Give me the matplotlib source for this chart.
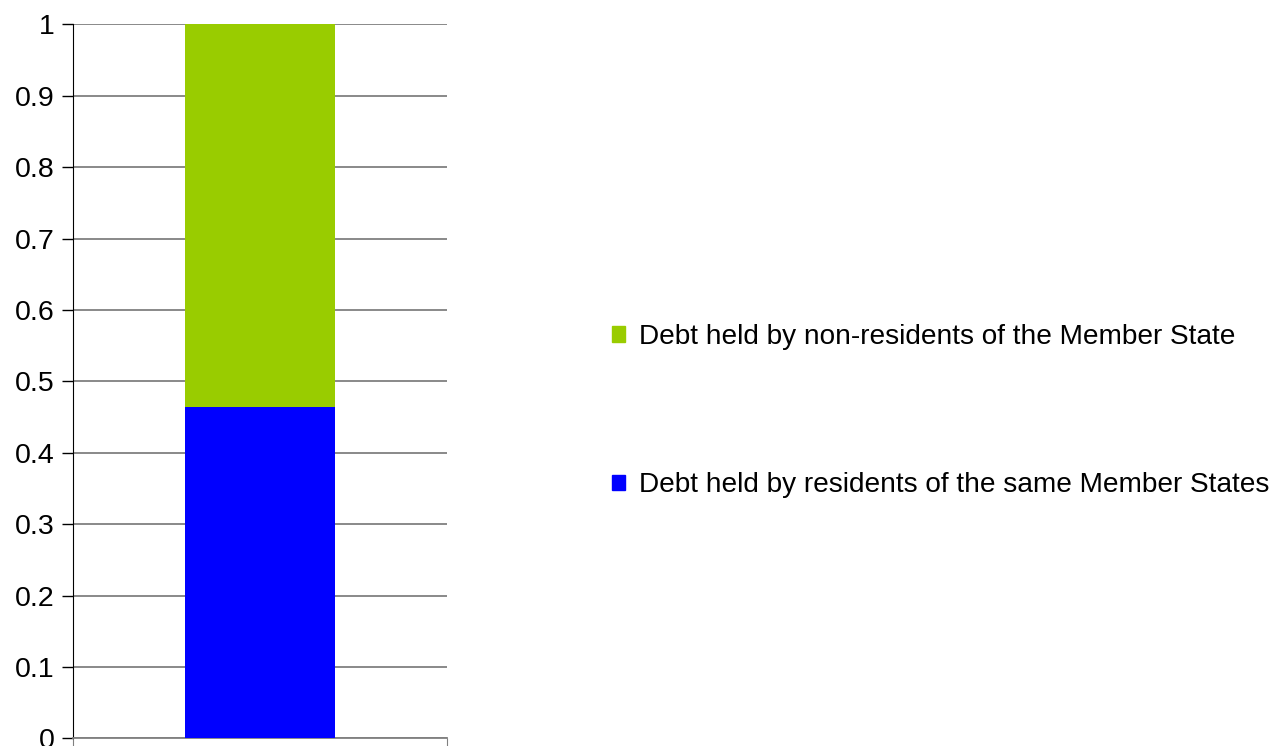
import numpy as np
import matplotlib.pyplot as plt
from matplotlib.patches import Patch

plt.rcParams['font.family'] = ['Liberation Sans', 'DejaVu Sans']

categories = [""]
residents = [0.464]
non_residents = [0.536]
labels = ["Debt held by residents of the same Member States",
          "Debt held by non-residents of the Member State"]
colors = ["#0000ff", "#99cc00"]

fig = plt.figure(figsize=(12.76, 7.46), dpi=100)
ax = fig.add_axes([0.0572, 0.0103, 0.2931, 0.9571])

x = np.arange(len(categories))
ax.bar(x, residents, width=0.4, color=colors[0], zorder=3)
ax.bar(x, non_residents, width=0.4, bottom=residents, color=colors[1], zorder=3)

ax.set_xlim(-0.5, 0.5)
ax.set_ylim(0, 1)
ax.set_yticks(np.arange(0, 1.01, 0.1))
ax.set_yticklabels(["0"] + [f"{v:.1f}" for v in np.arange(0.1, 0.95, 0.1)] + ["1"])
ax.yaxis.grid(True, color="#808080", linewidth=1.3, zorder=0)
ax.set_xticks([-0.5, 0.5])
ax.set_xticklabels([])
ax.tick_params(axis='x', length=8, direction='out', color="#808080")
ax.tick_params(axis='y', length=8, width=1, labelsize=20.5, pad=5)
for s in ["top", "right"]:
    ax.spines[s].set_visible(False)
ax.spines["left"].set_color("black")
ax.spines["bottom"].set_color("#808080")
ax.spines["bottom"].set_linewidth(1.3)

handles = [Patch(color=colors[1]), Patch(color=colors[0])]
fig.legend(handles, [labels[1], labels[0]], loc="center left",
           bbox_to_anchor=(0.4595, 0.449), frameon=False, fontsize=20.15,
           handlelength=0.47, handleheight=0.47, handletextpad=0.5,
           labelspacing=4.38)

fig.savefig("out.png", dpi=100)
